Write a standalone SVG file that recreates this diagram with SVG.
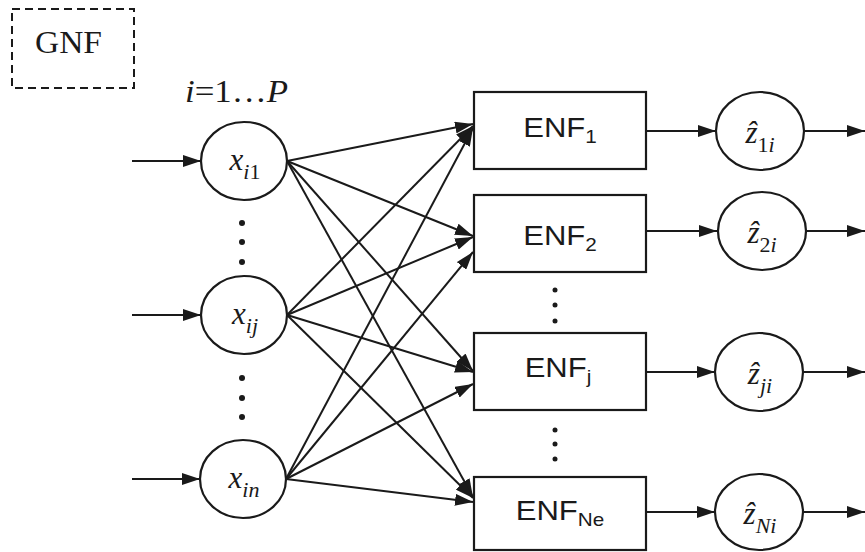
<svg xmlns="http://www.w3.org/2000/svg" width="865" height="552" viewBox="0 0 865 552">
<style>
.nd{fill:none;stroke:#1a1a1a;stroke-width:2.2}
.cn{stroke:#1a1a1a;stroke-width:2;fill:none;marker-end:url(#ah)}
.sf{font-family:"Liberation Serif","Times New Roman",serif;fill:#1a1a1a}
.ss{font-family:"Liberation Sans",Arial,sans-serif;fill:#1a1a1a;font-size:27px}
.sub{font-size:18px}
.it{font-style:italic}
.dot{fill:#1a1a1a}
</style>
<defs>
<marker id="ah" viewBox="0 0 18 12" refX="18" refY="6" markerWidth="18" markerHeight="12" orient="auto" markerUnits="userSpaceOnUse">
<path d="M0,0 L18,6 L0,12 z" fill="#1a1a1a"/>
</marker>
</defs>
<rect width="865" height="552" fill="#ffffff"/>

<g id="gnf">
<rect x="12" y="9" width="122" height="79" fill="none" stroke="#1a1a1a" stroke-width="2" stroke-dasharray="8,5"/>
<text class="sf" x="35" y="53" font-size="32" textLength="67" lengthAdjust="spacingAndGlyphs">GNF</text>
</g>
<g id="range">
<text class="sf" x="185" y="102" font-size="31" textLength="103" lengthAdjust="spacingAndGlyphs"><tspan class="it">i</tspan>=1…<tspan class="it">P</tspan></text>
</g>

<g id="connectors">
<line class="cn" x1="132" y1="161" x2="201" y2="161"/>
<line class="cn" x1="132" y1="315" x2="201" y2="315"/>
<line class="cn" x1="132" y1="479" x2="200" y2="479"/>
<line class="cn" x1="287" y1="161" x2="473" y2="124"/>
<line class="cn" x1="287" y1="161" x2="473" y2="236"/>
<line class="cn" x1="287" y1="161" x2="473" y2="371"/>
<line class="cn" x1="287" y1="161" x2="473" y2="497"/>
<line class="cn" x1="287" y1="315" x2="473" y2="126"/>
<line class="cn" x1="287" y1="315" x2="473" y2="237"/>
<line class="cn" x1="287" y1="315" x2="473" y2="372"/>
<line class="cn" x1="287" y1="315" x2="473" y2="498"/>
<line class="cn" x1="286" y1="479" x2="473" y2="128"/>
<line class="cn" x1="286" y1="479" x2="473" y2="252"/>
<line class="cn" x1="286" y1="479" x2="473" y2="384"/>
<line class="cn" x1="286" y1="479" x2="473" y2="502"/>
<line class="cn" x1="646" y1="131" x2="716" y2="131"/>
<line class="cn" x1="646" y1="231" x2="717" y2="231"/>
<line class="cn" x1="646" y1="372" x2="715" y2="372"/>
<line class="cn" x1="646" y1="512" x2="715" y2="512"/>
<line class="cn" x1="804" y1="131" x2="865" y2="131"/>
<line class="cn" x1="806" y1="231" x2="865" y2="231"/>
<line class="cn" x1="803" y1="372" x2="865" y2="372"/>
<line class="cn" x1="803" y1="512" x2="865" y2="512"/>
</g>

<g id="x_i1">
<ellipse class="nd" cx="244" cy="161" rx="43" ry="39"/>
<text class="sf" x="245" y="170" font-size="31" text-anchor="middle"><tspan class="it">x</tspan><tspan class="it" font-size="22" dy="9">i</tspan><tspan font-size="22">1</tspan></text>
</g>
<g id="x_ij">
<ellipse class="nd" cx="244" cy="315" rx="43" ry="39"/>
<text class="sf it" x="245" y="324" font-size="31" text-anchor="middle">x<tspan font-size="22" dy="9">ij</tspan></text>
</g>
<g id="x_in">
<ellipse class="nd" cx="243" cy="479" rx="43" ry="39"/>
<text class="sf it" x="244" y="488" font-size="31" text-anchor="middle">x<tspan font-size="22" dy="9">in</tspan></text>
</g>

<g id="dots_left">
<circle class="dot" cx="242" cy="223" r="3"/>
<circle class="dot" cx="242" cy="242" r="3"/>
<circle class="dot" cx="242" cy="262" r="3"/>
<circle class="dot" cx="242" cy="378" r="3"/>
<circle class="dot" cx="242" cy="398" r="3"/>
<circle class="dot" cx="242" cy="417" r="3"/>
</g>

<g id="enf1">
<rect class="nd" x="474" y="92" width="172" height="77"/>
<text class="ss" transform="translate(560,137) scale(1.15,1)" text-anchor="middle">ENF<tspan class="sub" dy="6">1</tspan></text>
</g>
<g id="enf2">
<rect class="nd" x="474" y="195" width="172" height="77"/>
<text class="ss" transform="translate(560,245) scale(1.15,1)" text-anchor="middle">ENF<tspan class="sub" dy="6">2</tspan></text>
</g>
<g id="enfj">
<rect class="nd" x="474" y="333" width="172" height="77"/>
<text class="ss" transform="translate(558,377) scale(1.15,1)" text-anchor="middle">ENF<tspan class="sub" dy="6">j</tspan></text>
</g>
<g id="enfne">
<rect class="nd" x="474" y="477" width="172" height="73"/>
<text class="ss" transform="translate(560,520) scale(1.15,1)" text-anchor="middle">ENF<tspan class="sub" dy="6">Ne</tspan></text>
</g>

<g id="dots_right">
<circle class="dot" cx="555" cy="290" r="2.5"/>
<circle class="dot" cx="555" cy="305" r="2.5"/>
<circle class="dot" cx="555" cy="321" r="2.5"/>
<circle class="dot" cx="555" cy="430" r="2.5"/>
<circle class="dot" cx="555" cy="444" r="2.5"/>
<circle class="dot" cx="555" cy="459" r="2.5"/>
</g>

<g id="z1">
<ellipse class="nd" cx="760" cy="131" rx="44" ry="39"/>
<text class="sf" x="760" y="143" font-size="31" text-anchor="middle"><tspan class="it">ẑ</tspan><tspan font-size="22" dy="9">1</tspan><tspan class="it" font-size="22">i</tspan></text>
</g>
<g id="z2">
<ellipse class="nd" cx="762" cy="231" rx="44" ry="39"/>
<text class="sf" x="762" y="243" font-size="31" text-anchor="middle"><tspan class="it">ẑ</tspan><tspan font-size="22" dy="9">2</tspan><tspan class="it" font-size="22">i</tspan></text>
</g>
<g id="zj">
<ellipse class="nd" cx="759" cy="372" rx="44" ry="39"/>
<text class="sf it" x="760" y="384" font-size="31" text-anchor="middle">ẑ<tspan font-size="22" dy="9">ji</tspan></text>
</g>
<g id="zN">
<ellipse class="nd" cx="759" cy="512" rx="44" ry="38"/>
<text class="sf it" x="760" y="524" font-size="31" text-anchor="middle">ẑ<tspan font-size="22" dy="9">Ni</tspan></text>
</g>
</svg>
